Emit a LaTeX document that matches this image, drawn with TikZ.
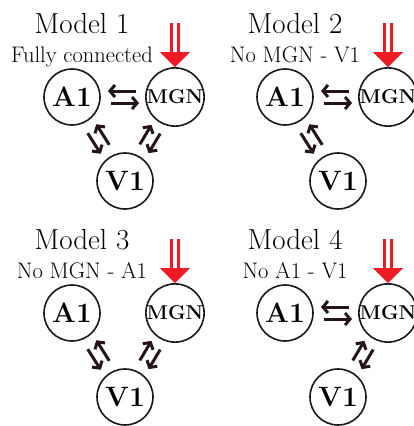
\documentclass[tikz,border=0pt]{standalone}
\usepackage{fontspec}
\usetikzlibrary{calc,arrows.meta}
\definecolor{inred}{RGB}{237,28,36}
\definecolor{arrdark}{RGB}{36,22,22}
\tikzset{
  x=1pt, y=-1pt,
  area/.style={draw=black!90, line width=1.6pt, circle, minimum size=56pt, inner sep=0pt},
  big/.style={font=\fontsize{28}{32}\selectfont\bfseries},
  smalllab/.style={font=\fontsize{20}{24}\selectfont\bfseries},
  titletext/.style={font=\fontsize{29}{32}\selectfont, anchor=base, inner sep=0pt},
  subtext/.style={font=\fontsize{22.5}{26}\selectfont, anchor=base, inner sep=0pt},
  pairarrow/.style={draw=arrdark, line width=3pt, -{Straight Barb[length=5pt,width=12pt]}},
  inshaft/.style={draw=inred, double=white, double distance=3.5pt, line width=3pt},
}
\newcommand\onearrow[3]{\draw[pairarrow] ($(#1)!39pt!(#2)!#3!90:(#2)$) -- ($(#2)!36pt!(#1)!#3!-90:(#1)$);}
\newcommand\panel[5]{%
  \begin{scope}[shift={(#2,#3)}]
    \node[titletext] (t#1) at (82,33) {#4};
    \node[subtext] (s#1) at (82,62) {#5};
    \node[area, big] (a#1) at (72,97) {A1};
    \node[area, smalllab] (m#1) at (175,97) {MGN};
    \node[area, big] (v#1) at (125,181) {V1};
    \coordinate (in#1) at (175,23);
    \draw[inshaft] (in#1) -- ($(m#1.north)+(0,-14)$);
    \fill[inred] ($(m#1.north)+(-15,-15)$) -- (m#1.north) -- ($(m#1.north)+(15,-15)$) -- cycle;
  \end{scope}}
\begin{document}
\begin{tikzpicture}
\useasboundingbox (0,0) rectangle (414,426);
\panel{1}{0}{0}{Model 1}{Fully connected}
\panel{2}{213}{0}{Model 2}{No MGN - V1}
\panel{3}{0}{216}{Model 3}{No MGN - A1}
\panel{4}{213}{216}{Model 4}{No A1 - V1}
% Model 1
\onearrow{a1}{m1}{-6pt}\onearrow{m1}{a1}{-6pt}
\onearrow{a1}{v1}{-6pt}\onearrow{v1}{a1}{-6pt}
\onearrow{m1}{v1}{6pt}\onearrow{v1}{m1}{6pt}
% Model 2
\onearrow{a2}{m2}{-6pt}\onearrow{m2}{a2}{-6pt}
\onearrow{a2}{v2}{-6pt}\onearrow{v2}{a2}{-6pt}
% Model 3
\onearrow{a3}{v3}{-6pt}\onearrow{v3}{a3}{-6pt}
\onearrow{m3}{v3}{6pt}\onearrow{v3}{m3}{6pt}
% Model 4
\onearrow{a4}{m4}{-6pt}\onearrow{m4}{a4}{-6pt}
\onearrow{m4}{v4}{6pt}\onearrow{v4}{m4}{6pt}
\end{tikzpicture}
\end{document}
